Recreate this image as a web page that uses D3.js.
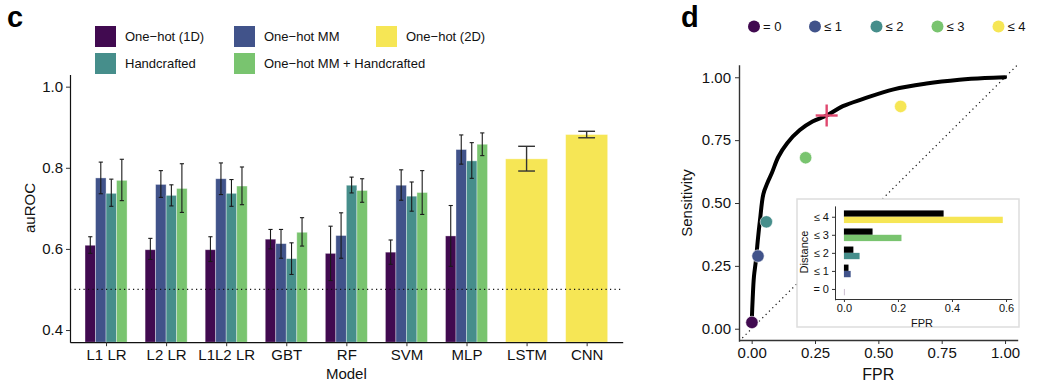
<!DOCTYPE html>
<html>
<head>
<meta charset="utf-8">
<script src="https://cdn.jsdelivr.net/npm/d3@7"></script>
<style>
  body { margin: 0; background: #fff; }
  svg { font-family: "Liberation Sans", Arial, Helvetica, sans-serif; }
</style>
</head>
<body>
<svg id="chart" width="1054" height="390"></svg>
<script>
// ---- panel c data ----
const models = ["L1 LR", "L2 LR", "L1L2 LR", "GBT", "RF", "SVM", "MLP", "LSTM", "CNN"];
const groupedModels = ["L1 LR", "L2 LR", "L1L2 LR", "GBT", "RF", "SVM", "MLP"];
const features = ["One\u2212hot (1D)", "One\u2212hot MM", "Handcrafted", "One\u2212hot MM + Handcrafted"];

const oneHot1D     = [0.609, 0.598, 0.598, 0.624, 0.589, 0.592, 0.632];
const oneHot1DLow  = [0.589, 0.574, 0.569, 0.600, 0.522, 0.562, 0.557];
const oneHot1DHigh = [0.630, 0.626, 0.630, 0.648, 0.656, 0.622, 0.707];

const oneHotMM     = [0.775, 0.759, 0.773, 0.613, 0.633, 0.757, 0.845];
const oneHotMMLow  = [0.736, 0.727, 0.734, 0.577, 0.577, 0.720, 0.809];
const oneHotMMHigh = [0.814, 0.793, 0.812, 0.648, 0.689, 0.795, 0.881];

const handcrafted     = [0.737, 0.732, 0.737, 0.576, 0.757, 0.730, 0.817];
const handcraftedLow  = [0.705, 0.706, 0.705, 0.537, 0.738, 0.693, 0.774];
const handcraftedHigh = [0.772, 0.758, 0.771, 0.615, 0.777, 0.765, 0.862];

const mmHand     = [0.769, 0.749, 0.755, 0.641, 0.744, 0.739, 0.858];
const mmHandLow  = [0.719, 0.690, 0.709, 0.607, 0.715, 0.685, 0.830];
const mmHandHigh = [0.821, 0.810, 0.802, 0.677, 0.773, 0.793, 0.886];

const oneHot2DModels = ["LSTM", "CNN"];
const oneHot2D     = [0.822, 0.882];
const oneHot2DLow  = [0.792, 0.874];
const oneHot2DHigh = [0.853, 0.890];

const yTicksC = [0.4, 0.6, 0.8, 1.0];
const chanceLevel = 0.5;

// ---- panel d data ----
const rocFpr = [0, 0.004, 0.009, 0.017, 0.024, 0.033, 0.046, 0.062, 0.08, 0.105, 0.14, 0.19, 0.24, 0.296, 0.36, 0.44, 0.56, 0.69, 0.82, 0.92, 1.0];
const rocTpr = [0.02, 0.12, 0.207, 0.273, 0.35, 0.433, 0.535, 0.58, 0.62, 0.683, 0.738, 0.79, 0.824, 0.848, 0.885, 0.914, 0.952, 0.975, 0.99, 0.997, 1.0];
const distances = ["= 0", "\u2264 1", "\u2264 2", "\u2264 3", "\u2264 4"];
const distFpr = [0.001, 0.025, 0.058, 0.213, 0.588];
const distTpr = [0.025, 0.289, 0.425, 0.680, 0.884];
const modelFpr = [0.0, 0.017, 0.035, 0.106, 0.369];
const cutoffFpr = 0.296, cutoffTpr = 0.848;
const rocTicks = [0, 0.25, 0.5, 0.75, 1.0];
const insetTicks = [0, 0.2, 0.4, 0.6];

const viridis = ["#410a50", "#41538a", "#468e8b", "#79c46f", "#f6e655"];
const featColor = d3.scaleOrdinal().domain(features.concat(["One\u2212hot (2D)"])).range(viridis.slice(0, 4).concat([viridis[4]]));
const distColor = d3.scaleOrdinal().domain(distances).range(viridis);

const svg = d3.select("#chart");
const axisColor = "#333";

// ================= panel c =================
const xC = d3.scalePoint().domain(models).range([70, 622.7]).padding(0.6);
const stepC = xC.step();
const groupW = stepC * 0.7;
const xSub = d3.scaleBand().domain(features).range([-groupW / 2, groupW / 2]);
const yC = d3.scaleLinear().domain([0.37, 1.03]).range([342.2, 74.5]);

svg.append("text").attr("x", 7).attr("y", 27)
  .attr("font-size", 29).attr("font-weight", "bold").text("c");

// legend
const legendC = [
  {label: features[0], col: 0, row: 0},
  {label: features[2], col: 0, row: 1},
  {label: features[1], col: 1, row: 0},
  {label: features[3], col: 1, row: 1},
  {label: "One\u2212hot (2D)", col: 2, row: 0}
];
const legColX = [95, 234, 376], legRowY = [26, 53];
const legG = svg.append("g");
legendC.forEach(d => {
  legG.append("rect").attr("x", legColX[d.col]).attr("y", legRowY[d.row])
    .attr("width", 21).attr("height", 21).attr("fill", featColor(d.label));
  legG.append("text").attr("x", legColX[d.col] + 30).attr("y", legRowY[d.row] + 15)
    .attr("font-size", 13).attr("fill", "#111").text(d.label);
});

// grouped bars
const groupedRows = [];
const featData = [
  [oneHot1D, oneHot1DLow, oneHot1DHigh],
  [oneHotMM, oneHotMMLow, oneHotMMHigh],
  [handcrafted, handcraftedLow, handcraftedHigh],
  [mmHand, mmHandLow, mmHandHigh]
];
groupedModels.forEach((m, i) => {
  features.forEach((f, j) => {
    groupedRows.push({model: m, feature: f, value: featData[j][0][i], low: featData[j][1][i], high: featData[j][2][i]});
  });
});

const barsC = svg.append("g");
barsC.selectAll("rect.grp").data(groupedRows).enter().append("rect")
  .attr("class", "grp")
  .attr("x", d => xC(d.model) + xSub(d.feature))
  .attr("y", d => yC(d.value))
  .attr("width", xSub.bandwidth())
  .attr("height", d => yC(0.37) - yC(d.value))
  .attr("fill", d => featColor(d.feature))
  .attr("stroke", "#fff").attr("stroke-opacity", 0.45).attr("stroke-width", 0.8);

const singleRows = oneHot2DModels.map((m, i) => ({model: m, value: oneHot2D[i], low: oneHot2DLow[i], high: oneHot2DHigh[i]}));
barsC.selectAll("rect.single").data(singleRows).enter().append("rect")
  .attr("class", "single")
  .attr("x", d => xC(d.model) - groupW / 2)
  .attr("y", d => yC(d.value))
  .attr("width", groupW)
  .attr("height", d => yC(0.37) - yC(d.value))
  .attr("fill", viridis[4])
  .attr("stroke", "#fff").attr("stroke-opacity", 0.45).attr("stroke-width", 0.8);

// error bars
function errBar(g, cx, lo, hi, half, w) {
  g.append("line").attr("x1", cx).attr("x2", cx).attr("y1", yC(lo)).attr("y2", yC(hi));
  g.append("line").attr("x1", cx - half).attr("x2", cx + half).attr("y1", yC(lo)).attr("y2", yC(lo));
  g.append("line").attr("x1", cx - half).attr("x2", cx + half).attr("y1", yC(hi)).attr("y2", yC(hi));
}
const errG = svg.append("g").attr("stroke", "#1a1a1a").attr("stroke-width", 1.1);
groupedRows.forEach(d => {
  errBar(errG, xC(d.model) + xSub(d.feature) + xSub.bandwidth() / 2, d.low, d.high, 2.1);
});
const errG2 = svg.append("g").attr("stroke", "#333").attr("stroke-width", 1.4);
singleRows.forEach(d => errBar(errG2, xC(d.model), d.low, d.high, 8.4));

// chance line
svg.append("line")
  .attr("x1", 70).attr("x2", 622.7)
  .attr("y1", yC(chanceLevel)).attr("y2", yC(chanceLevel))
  .attr("stroke", "#111").attr("stroke-width", 1.2).attr("stroke-dasharray", "1.2,3.3");

// axes
const yAxisC = svg.append("g").attr("transform", "translate(70,0)")
  .call(d3.axisLeft(yC).tickValues(yTicksC).tickFormat(d3.format(".1f")).tickSize(4).tickSizeOuter(0).tickPadding(3));
const xAxisC = svg.append("g").attr("transform", `translate(0,${yC(0.37)})`)
  .call(d3.axisBottom(xC).tickSize(4).tickSizeOuter(0).tickPadding(3));
[yAxisC, xAxisC].forEach(a => {
  a.select(".domain").attr("stroke", "#111").attr("stroke-width", 1.2);
  a.selectAll(".tick line").attr("stroke", "#333");
  a.selectAll(".tick text").attr("fill", "#111").attr("font-size", 15).attr("font-family", "Liberation Sans, Arial, sans-serif");
});

svg.append("text").attr("transform", `translate(35,208) rotate(-90)`)
  .attr("text-anchor", "middle").attr("font-size", 15).attr("fill", "#111").text("auROC");
svg.append("text").attr("x", xC("RF")).attr("y", 379)
  .attr("text-anchor", "middle").attr("font-size", 15).attr("fill", "#111").text("Model");

// ================= panel d =================
const xD = d3.scaleLinear().domain([-0.05, 1.05]).range([739.0, 1017.7]);
const yD = d3.scaleLinear().domain([-0.05, 1.05]).range([341.3, 64.7]);

svg.append("text").attr("x", 681).attr("y", 27)
  .attr("font-size", 29).attr("font-weight", "bold").text("d");

// legend
const legD = svg.append("g");
const legDX = [754, 815, 876.5, 937.5, 998.5];
distances.forEach((d, i) => {
  legD.append("circle").attr("cx", legDX[i]).attr("cy", 26.5).attr("r", 6).attr("fill", distColor(d));
  legD.append("text").attr("x", legDX[i] + 9).attr("y", 31).attr("font-size", 13).attr("fill", "#111").text(d);
});

svg.append("defs").append("clipPath").attr("id", "clipD")
  .append("rect").attr("x", 739.5).attr("y", 64.7).attr("width", 1017.7 - 739.5).attr("height", 340 - 64.7);

const panelD = svg.append("g").attr("clip-path", "url(#clipD)");
panelD.append("line")
  .attr("x1", xD(-0.05)).attr("y1", yD(-0.05)).attr("x2", xD(1.05)).attr("y2", yD(1.05))
  .attr("stroke", "#111").attr("stroke-width", 1.2).attr("stroke-dasharray", "1.2,3.5");

const rocLine = d3.line().x(d => xD(d[0])).y(d => yD(d[1])).curve(d3.curveMonotoneX);
panelD.append("path").datum(rocFpr.map((f, i) => [f, rocTpr[i]]))
  .attr("d", d3.line().x(d => xD(d[0])).y(d => yD(d[1])).curve(d3.curveCatmullRom))
  .attr("fill", "none").attr("stroke", "#000").attr("stroke-width", 4).attr("stroke-linecap", "round");

// cutoff marker
const cross = svg.append("g").attr("stroke", "#e0486f").attr("stroke-width", 2.4);
cross.append("line").attr("x1", xD(cutoffFpr) - 11).attr("x2", xD(cutoffFpr) + 11).attr("y1", yD(cutoffTpr)).attr("y2", yD(cutoffTpr));
cross.append("line").attr("x1", xD(cutoffFpr)).attr("x2", xD(cutoffFpr)).attr("y1", yD(cutoffTpr) - 11).attr("y2", yD(cutoffTpr) + 11);

// distance points
svg.append("g").selectAll("circle").data(distances).enter().append("circle")
  .attr("cx", (d, i) => xD(distFpr[i]))
  .attr("cy", (d, i) => yD(distTpr[i]))
  .attr("r", 6.2)
  .attr("fill", d => distColor(d))
  .attr("stroke", "#fff").attr("stroke-width", 0.6);

// axes
const yAxisD = svg.append("g").attr("transform", `translate(${xD(-0.05)},0)`)
  .call(d3.axisLeft(yD).tickValues(rocTicks).tickFormat(d3.format(".2f")).tickSize(4).tickSizeOuter(0).tickPadding(4));
const xAxisD = svg.append("g").attr("transform", `translate(0,${340})`)
  .call(d3.axisBottom(xD).tickValues(rocTicks).tickFormat(d3.format(".2f")).tickSize(4).tickSizeOuter(0).tickPadding(3));
[yAxisD, xAxisD].forEach(a => {
  a.select(".domain").attr("stroke", "#333").attr("stroke-width", 1.4);
  a.selectAll(".tick line").attr("stroke", "#333");
  a.selectAll(".tick text").attr("fill", "#111").attr("font-size", 15).attr("font-family", "Liberation Sans, Arial, sans-serif");
});
svg.append("text").attr("transform", `translate(692,203) rotate(-90)`)
  .attr("text-anchor", "middle").attr("font-size", 15).attr("fill", "#111").text("Sensitivity");
svg.append("text").attr("x", xD(0.5)).attr("y", 380)
  .attr("text-anchor", "middle").attr("font-size", 16).attr("fill", "#111").text("FPR");

// ---- inset ----
svg.append("rect").attr("x", 797).attr("y", 199).attr("width", 222).attr("height", 128)
  .attr("fill", "#fff").attr("stroke", "#ddd").attr("stroke-width", 1.5);

const xIn = d3.scaleLinear().domain([-0.033, 0.621]).range([835, 1011.7]);
const yIn = d3.scalePoint().domain(distances.slice().reverse()).range([205.9, 299.8]).padding(0.6);
const inBarH = yIn.step() * 0.7 / 2;

const insetRows = distances.map((d, i) => ({dist: d, model: modelFpr[i], dfpr: distFpr[i]}));
const inG = svg.append("g");
inG.selectAll("rect.m").data(insetRows).enter().append("rect")
  .attr("x", xIn(0)).attr("y", d => yIn(d.dist) - inBarH)
  .attr("width", d => xIn(d.model) - xIn(0)).attr("height", inBarH)
  .attr("fill", "#000");
inG.selectAll("rect.d").data(insetRows).enter().append("rect")
  .attr("x", xIn(0)).attr("y", d => yIn(d.dist))
  .attr("width", d => Math.max(xIn(d.dfpr) - xIn(0), 0.8)).attr("height", inBarH)
  .attr("fill", d => distColor(d.dist))
  .attr("fill-opacity", d => d.dist === "= 0" ? 0.35 : 1);

const yAxisIn = svg.append("g").attr("transform", "translate(835,0)")
  .call(d3.axisLeft(yIn).tickSize(3).tickSizeOuter(0).tickPadding(3));
const xAxisIn = svg.append("g").attr("transform", "translate(0,299)")
  .call(d3.axisBottom(xIn).tickValues(insetTicks).tickFormat(d3.format(".1f")).tickSize(3).tickSizeOuter(0).tickPadding(2));
[yAxisIn, xAxisIn].forEach(a => {
  a.select(".domain").attr("stroke", "#333").attr("stroke-width", 1);
  a.selectAll(".tick line").attr("stroke", "#333");
  a.selectAll(".tick text").attr("fill", "#111").attr("font-size", 11).attr("font-family", "Liberation Sans, Arial, sans-serif");
});
svg.append("text").attr("transform", `translate(808,252) rotate(-90)`)
  .attr("text-anchor", "middle").attr("font-size", 11).attr("fill", "#111").text("Distance");
svg.append("text").attr("x", 922).attr("y", 327)
  .attr("text-anchor", "middle").attr("font-size", 11).attr("fill", "#111").text("FPR");
</script>
</body>
</html>
